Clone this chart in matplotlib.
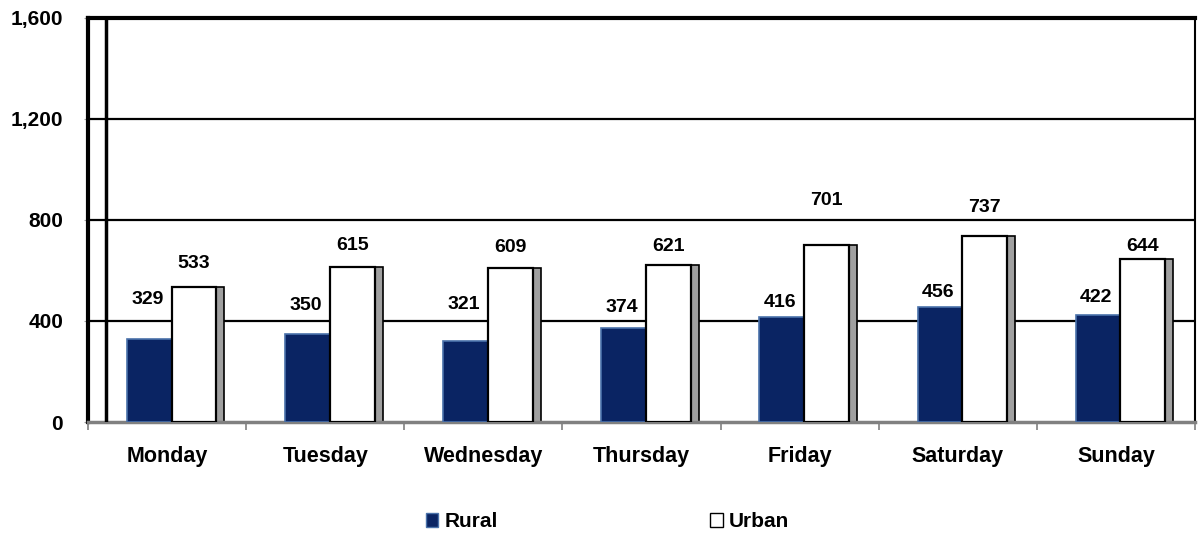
import numpy as np
import matplotlib.pyplot as plt
from matplotlib.patches import Patch

days = ["Monday", "Tuesday", "Wednesday", "Thursday", "Friday", "Saturday", "Sunday"]
rural = [329, 350, 321, 374, 416, 456, 422]
urban = [533, 615, 609, 621, 701, 737, 644]
yticks = [0, 400, 800, 1200, 1600]

# gap (points) between bar top and its value label, as in the original
rural_gap = [22, 14, 20, 8, 4, 4, 7]
urban_gap = [11, 9, 9, 7, 26, 14, 3]

plt.rcParams['font.family'] = ['Liberation Sans', 'DejaVu Sans']
plt.rcParams['font.weight'] = 'bold'

fig = plt.figure(figsize=(11.98, 5.38), dpi=100)
ax = fig.add_axes([0.0735, 0.2156, 0.924, 0.751])

x = np.arange(len(days))
w = 0.283
depth = 0.05

for v in yticks[1:-1]:
    ax.axhline(v, color='black', lw=1.6, zorder=1)

ax.bar(x - 0.113, rural, width=w, color='#0a2463', edgecolor='#4a72aa', lw=1.2, zorder=3)
ax.bar(x + 0.17, urban, width=w, color='white', edgecolor='black', lw=1.6, zorder=3)
# side face of the 3d urban bars
ax.bar(x + 0.312 + depth / 2, urban, width=depth, color='#a0a0a0', edgecolor='black', lw=1.2, zorder=2)

for i in range(len(days)):
    ax.annotate(str(rural[i]), (x[i] - 0.125, rural[i]), xytext=(0, rural_gap[i]), textcoords='offset points',
                ha='center', va='bottom', fontsize=14, fontweight='bold')
    ax.annotate(str(urban[i]), (x[i] + 0.17, urban[i]), xytext=(0, urban_gap[i]), textcoords='offset points',
                ha='center', va='bottom', fontsize=14, fontweight='bold')

ax.set_xlim(-0.5, len(days) - 0.5)
ax.set_ylim(0, 1600)
ax.set_xticks(x)
ax.set_xticklabels(days, fontsize=15.5, fontweight='bold')
ax.set_xticks(np.arange(-0.5, len(days)), minor=True)
ax.tick_params(axis='x', which='major', length=0, pad=17)
ax.tick_params(axis='x', which='minor', length=6, color='#808080', width=1.2)
ax.set_yticks(yticks)
ax.set_yticklabels([f"{v:,}" for v in yticks], fontsize=15, fontweight='bold')
ax.tick_params(axis='y', length=3, color='#a0a0a0', pad=15)

ax.spines['top'].set_linewidth(3)
ax.spines['left'].set_linewidth(3)
ax.spines['right'].set_linewidth(1.5)
ax.spines['bottom'].set_color('#808080')
ax.spines['bottom'].set_linewidth(2.5)
# back wall edge
ax.plot([0.0163, 0.0163], [0, 1], transform=ax.transAxes, color='black', lw=2.5, zorder=4)

handles = [Patch(facecolor='#0a2463', edgecolor='#4a72aa', label='Rural'),
           Patch(facecolor='white', edgecolor='black', label='Urban')]
fig.legend(handles=handles, loc='center', bbox_to_anchor=(0.507, 0.03), ncol=2, frameon=False,
           prop={'size': 15, 'weight': 'bold'}, columnspacing=10.2, handlelength=0.6, handleheight=0.6,
           handletextpad=0.3)

plt.savefig("out.png", dpi=100)
